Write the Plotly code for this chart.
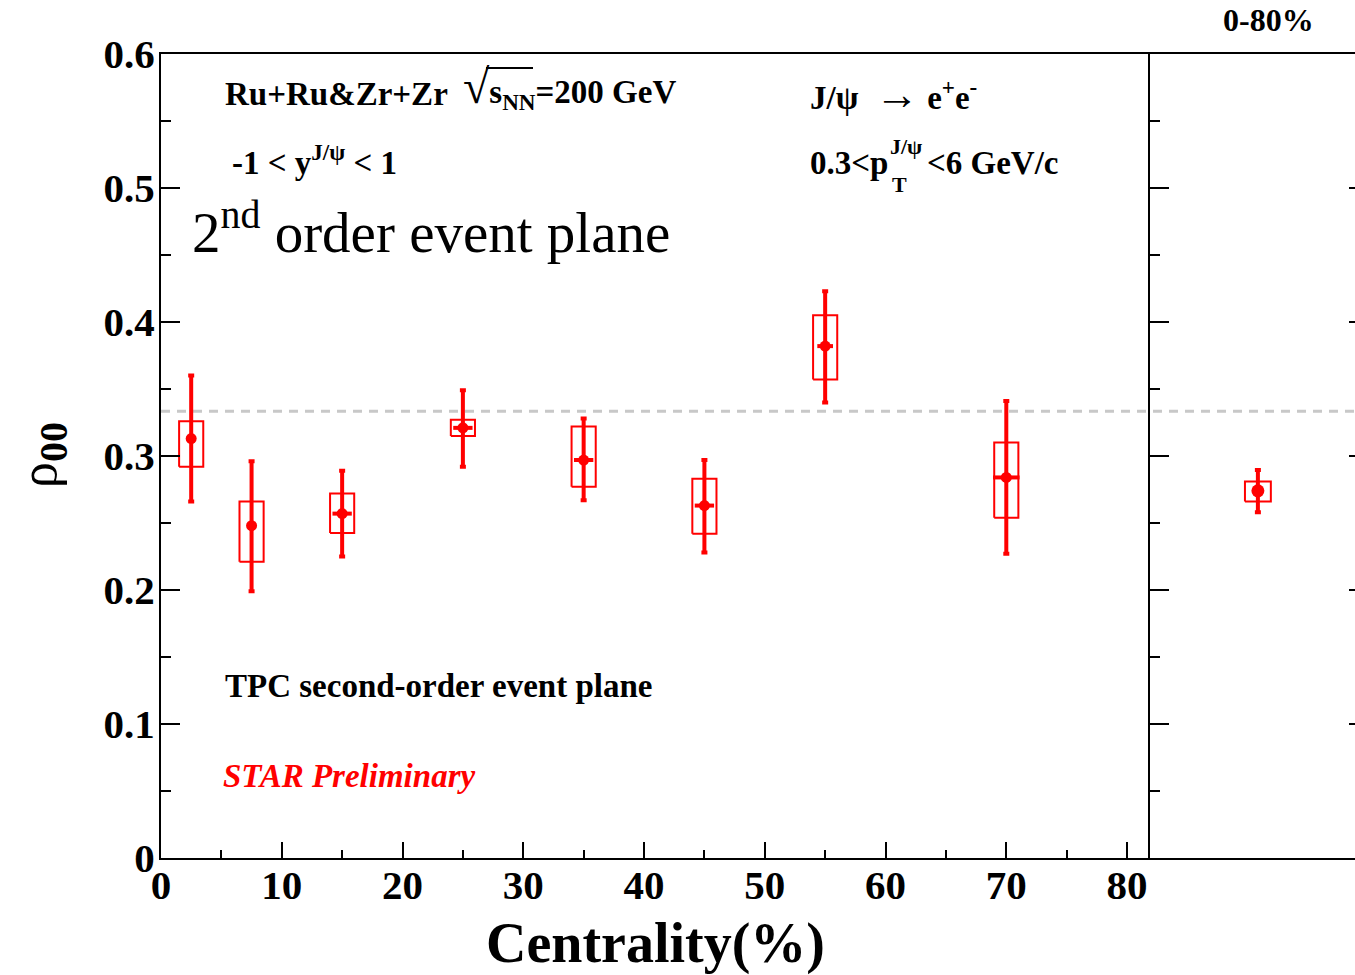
import plotly.graph_objects as go

# ---------------- data ----------------
cent = [2.5, 7.5, 15, 25, 35, 45, 55, 70]
rho = [0.313, 0.248, 0.257, 0.321, 0.297, 0.263, 0.382, 0.284]
stat_hi = [0.360, 0.296, 0.289, 0.349, 0.328, 0.297, 0.423, 0.341]
stat_lo = [0.266, 0.199, 0.225, 0.292, 0.267, 0.228, 0.340, 0.227]
sys_hi = [0.326, 0.266, 0.272, 0.327, 0.322, 0.283, 0.405, 0.310]
sys_lo = [0.292, 0.221, 0.2425, 0.315, 0.277, 0.242, 0.357, 0.254]
xerr = [0, 0, 0.8, 0.8, 0.8, 0.8, 0.65, 1.1]
sys_halfwidth = 1.0

int_x = [0.5]
int_rho = [0.274]
int_stat_hi = [0.2895]
int_stat_lo = [0.258]
int_sys_hi = [0.281]
int_sys_lo = [0.266]
int_halfwidth = 0.06

ref_line = 1.0 / 3.0
y_ticks = [0, 0.1, 0.2, 0.3, 0.4, 0.5, 0.6]
y_ticklabels = ["0", "0.1", "0.2", "0.3", "0.4", "0.5", "0.6"]
x_ticks = [0, 10, 20, 30, 40, 50, 60, 70, 80]

RED = "#ff0000"
FONT = "Liberation Serif"

# ---------------- layout geometry ----------------
W, H = 1355, 975
L, R, T, B = 161, 1355, 54, 858
PW, PH = R - L, B - T
SPLIT = (1150 - L) / PW


def px(x):
    return (x - L) / PW


def py(y):
    return (B - y) / PH


def rect_path(xs, hw, lo, hi):
    xx, yy = [], []
    for x, a, b in zip(xs, lo, hi):
        xx += [x - hw, x + hw, x + hw, x - hw, x - hw, None]
        yy += [a, a, b, b, a, None]
    return xx, yy


fig = go.Figure()

# systematic boxes (main)
bx, by = rect_path(cent, sys_halfwidth, sys_lo, sys_hi)
fig.add_trace(go.Scatter(x=bx, y=by, mode="lines", line=dict(color=RED, width=2),
                         xaxis="x", yaxis="y", showlegend=False, hoverinfo="skip"))
# points with stat errors (main)
fig.add_trace(go.Scatter(
    x=cent, y=rho, mode="markers", xaxis="x", yaxis="y", showlegend=False,
    marker=dict(color=RED, size=11, symbol="circle"),
    error_y=dict(type="data", symmetric=False,
                 array=[h - v for h, v in zip(stat_hi, rho)],
                 arrayminus=[v - l for l, v in zip(stat_lo, rho)],
                 color=RED, thickness=4, width=3),
    error_x=dict(type="data", array=xerr, color=RED, thickness=4, width=0),
))

# integrated panel
bx2, by2 = rect_path(int_x, int_halfwidth, int_sys_lo, int_sys_hi)
fig.add_trace(go.Scatter(x=bx2, y=by2, mode="lines", line=dict(color=RED, width=2),
                         xaxis="x2", yaxis="y2", showlegend=False, hoverinfo="skip"))
fig.add_trace(go.Scatter(
    x=int_x, y=int_rho, mode="markers", xaxis="x2", yaxis="y2", showlegend=False,
    marker=dict(color=RED, size=13, symbol="circle"),
    error_y=dict(type="data", symmetric=False,
                 array=[h - v for h, v in zip(int_stat_hi, int_rho)],
                 arrayminus=[v - l for l, v in zip(int_stat_lo, int_rho)],
                 color=RED, thickness=4, width=3),
))
# invisible trace for right-side ticks
fig.add_trace(go.Scatter(x=int_x, y=int_rho, mode="markers", marker=dict(opacity=0),
                         xaxis="x2", yaxis="y3", showlegend=False, hoverinfo="skip"))

tickfont = dict(family=FONT, size=41, color="black", weight="bold")

fig.update_layout(
    width=W, height=H,
    margin=dict(l=L, r=W - R, t=T, b=H - B, pad=0),
    paper_bgcolor="white", plot_bgcolor="white",
    font=dict(family=FONT, color="black"),
    xaxis=dict(domain=[0, SPLIT], range=[0, 81.9], anchor="y",
               tickvals=x_ticks, ticktext=[str(v) for v in x_ticks],
               ticks="inside", ticklen=16, tickwidth=2, tickcolor="black",
               minor=dict(dtick=5, ticks="inside", ticklen=8, tickwidth=2, tickcolor="black"),
               showline=True, linecolor="black", linewidth=2, mirror=True,
               showgrid=False, zeroline=False, tickfont=tickfont,
               ticklabelstandoff=-10),
    yaxis=dict(domain=[0, 1], range=[0, 0.6], anchor="x",
               tickvals=y_ticks, ticktext=y_ticklabels,
               ticks="inside", ticklen=19, tickwidth=2, tickcolor="black",
               minor=dict(dtick=0.05, ticks="inside", ticklen=10, tickwidth=2, tickcolor="black"),
               showline=True, linecolor="black", linewidth=2, mirror=False,
               showgrid=False, zeroline=False, tickfont=tickfont,
               ticklabelstandoff=-4),
    xaxis2=dict(domain=[SPLIT, 1], range=[0, 0.95], anchor="y2",
                showticklabels=False, ticks="", showline=True, linecolor="black",
                linewidth=2, mirror=True, showgrid=False, zeroline=False),
    yaxis2=dict(domain=[0, 1], range=[0, 0.6], anchor="x2",
                tickvals=y_ticks, showticklabels=False,
                ticks="inside", ticklen=19, tickwidth=2, tickcolor="black",
                minor=dict(dtick=0.05, ticks="inside", ticklen=10, tickwidth=2, tickcolor="black"),
                showline=True, linecolor="black", linewidth=2, mirror=False,
                showgrid=False, zeroline=False),
    yaxis3=dict(range=[0, 0.6], overlaying="y2", side="right", anchor="x2",
                tickvals=y_ticks, showticklabels=False,
                ticks="inside", ticklen=6, tickwidth=2, tickcolor="black",
                showline=False, showgrid=False, zeroline=False),
)

# dashed reference line at 1/3
fig.add_shape(type="line", xref="paper", yref="y", x0=0, x1=1, y0=ref_line, y1=ref_line,
              line=dict(color="#c8c8c8", width=3, dash="9px,7px"), layer="below")

# overline of sqrt
fig.add_shape(type="line", xref="paper", yref="paper", x0=px(486), x1=px(533),
              y0=py(68), y1=py(68), line=dict(color="black", width=2))

anns = []


def ann(text, x, y, size, bold=True, color="black", xanchor="left", italic=False, angle=0):
    t = text
    if bold:
        t = "<b>" + t + "</b>"
    if italic:
        t = "<i>" + t + "</i>"
    anns.append(dict(text=t, x=px(x), y=py(y), xref="paper", yref="paper",
                     xanchor=xanchor, yanchor="middle", showarrow=False,
                     textangle=angle,
                     font=dict(family=FONT, size=size, color=color)))


ann("Ru+Ru&amp;Zr+Zr", 223, 94, 33)
ann("<span style='font-size:48px;font-weight:normal'>√</span>s<sub>NN</sub>=200 GeV", 461, 88, 33)
ann("J/ψ  <span style='font-size:44px'>→</span> e<sup>+</sup>e<sup>-</sup>", 808, 94, 33)
ann("-1 &lt; y<sup>J/ψ</sup> &lt; 1", 230, 160, 33)
ann("0.3&lt;p", 808, 163, 33)
ann("J/ψ", 888, 146, 22)
ann("T", 890, 184, 22)
ann("&lt;6 GeV/c", 925, 163, 33)
ann("2<sup>nd</sup> order event plane", 190, 228, 57, bold=False)
ann("TPC second-order event plane", 223, 686, 33)
ann("STAR Preliminary", 221, 776, 33, color=RED, italic=True)
ann("0-80%", 1268, 20, 32, xanchor="center")
ann("Centrality(%)", 655, 944, 56, xanchor="center")
anns.append(dict(text="ρ<sub><b><span style='font-size:40px'>00</span></b></sub>",
                 x=px(43), y=py(455), xref="paper", yref="paper",
                 xanchor="center", yanchor="middle", showarrow=False, textangle=-90,
                 font=dict(family=FONT, size=52, color="black")))

fig.update_layout(annotations=anns)

fig.write_html("out.html")
